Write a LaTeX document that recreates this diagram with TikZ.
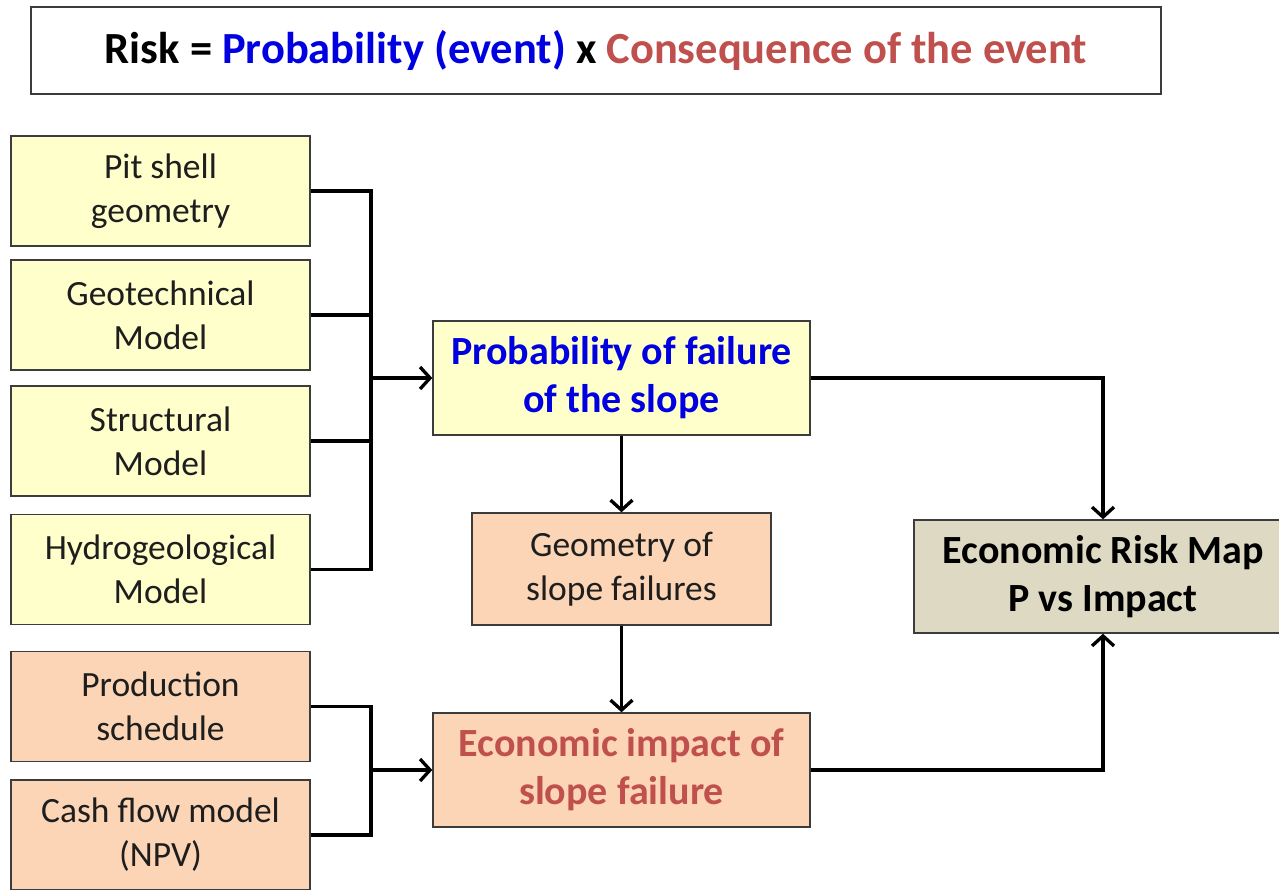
\documentclass[tikz,border=0pt]{standalone}
\usepackage{fontspec}
\setmainfont{Carlito}
\usetikzlibrary{arrows.meta,positioning}
\definecolor{ink}{HTML}{1E1E1E}
\definecolor{edge}{HTML}{3C3C3C}
\definecolor{pale}{HTML}{FFFFCC}
\definecolor{peach}{HTML}{FBD5B5}
\definecolor{khaki}{HTML}{DDD9C3}
\definecolor{probblue}{HTML}{0000E0}
\definecolor{conred}{HTML}{C0504D}
\tikzset{
  every picture/.style={x=1pt, y=-1pt, line width=3pt, font=\fontsize{35.5}{44}\selectfont},
  box/.style={draw=edge, line width=1.4pt, text=ink, align=center, inner sep=0pt, minimum width=299pt, minimum height=110pt},
  input/.style={box, fill=pale},
  cost/.style={box, fill=peach},
  stage/.style={box, minimum width=377pt, minimum height=114pt, font=\fontsize{40}{48}\selectfont\bfseries},
  flow/.style={-{Straight Barb[length=10pt, width=22pt]}, draw=black, line width=3.3pt},
  link/.style={draw=black, line width=3.3pt},
}
\begin{document}
\begin{tikzpicture}
\path[use as bounding box, fill=white] (0,0) rectangle (1279,889);
% formula at the top
\node[box, fill=white, minimum width=1130pt, minimum height=87pt, text=black, font=\fontsize{44.5}{50}\selectfont\bfseries] (formula) at (596,50.5)
  {Risk = \textcolor{probblue}{Probability (event)} x \textcolor{conred}{Consequence of the event}};
% inputs
\node[input] (pit) at (160.5,191) {Pit shell\\geometry};
\node[input] (geo) at (160.5,315) {Geotechnical\\Model};
\node[input] (struct) at (160.5,441) {Structural\\Model};
\node[input] (hydro) at (160.5,569.5) {Hydrogeological\\Model};
\node[cost] (prod) at (160.5,706.5) {Production\\schedule};
\node[cost] (cash) at (160.5,835) {Cash flow model\\(NPV)};
% stages
\node[stage, fill=pale, text=probblue] (prob) at (621.5,378) {Probability of failure\\of the slope};
\node[cost, minimum height=112pt] (geom) at (621.5,569) {Geometry of\\slope failures};
\node[stage, fill=peach, text=conred] (impact) at (621.5,770) {Economic impact of\\slope failure};
\node[stage, fill=khaki, minimum width=378pt, minimum height=113pt, text=black] (riskmap) at (1103,576.5) {Economic Risk Map\\P vs Impact};
% connectors
\coordinate (upjoin) at (371,378);
\coordinate (lowjoin) at (371,770);
\foreach \n in {pit,geo,struct,hydro}
  \draw[link] (\n.east) -| (upjoin);
\foreach \n in {prod,cash}
  \draw[link] (\n.east) -| (lowjoin);
\draw[flow] (upjoin) -- (prob.west);
\draw[flow] (lowjoin) -- (impact.west);
\draw[flow] (prob) -- (geom);
\draw[flow] (geom) -- (impact);
\draw[flow] (prob.east) -| (riskmap.north);
\draw[flow] (impact.east) -| (riskmap.south);
\end{tikzpicture}
\end{document}
